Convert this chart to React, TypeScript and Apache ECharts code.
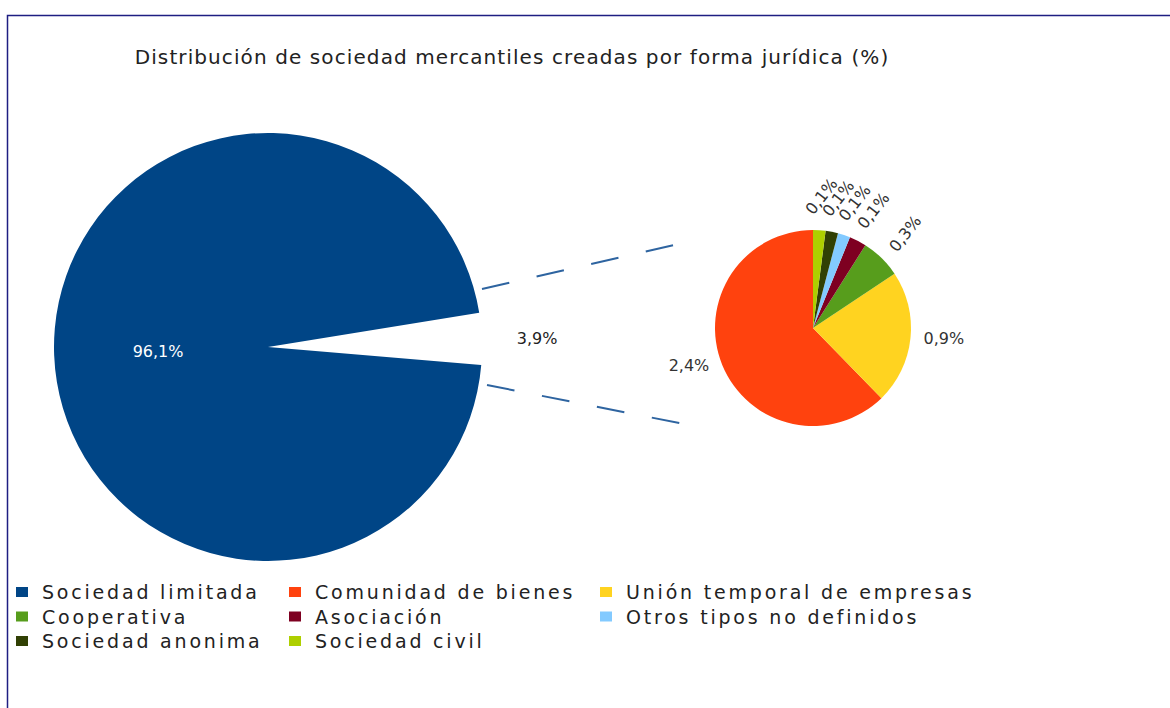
import React, { useEffect, useRef } from "react";
import * as echarts from "echarts";

// ---- data ----
const mainNames = ["Sociedad limitada", "Resto de formas"];
const mainValues = [96.1, 3.9];

const detailNames = [
  "Comunidad de bienes",
  "Unión temporal de empresas",
  "Cooperativa",
  "Asociación",
  "Otros tipos no definidos",
  "Sociedad anonima",
  "Sociedad civil",
];
const detailValues = [2.43, 0.86, 0.26, 0.11, 0.08, 0.08, 0.08];

const legendCol1 = ["Sociedad limitada", "Cooperativa", "Sociedad anonima"];
const legendCol2 = ["Comunidad de bienes", "Asociación", "Sociedad civil"];
const legendCol3 = ["Unión temporal de empresas", "Otros tipos no definidos"];

const titleText = "Distribución de sociedad mercantiles creadas por forma jurídica (%)";

// ---- styles ----
const colorMap: Record<string, string> = {
  "Sociedad limitada": "#004586",
  "Comunidad de bienes": "#ff420e",
  "Unión temporal de empresas": "#ffd320",
  "Cooperativa": "#579d1c",
  "Asociación": "#7e0021",
  "Otros tipos no definidos": "#83caff",
  "Sociedad anonima": "#314004",
  "Sociedad civil": "#aecf00",
};

const FONT = "DejaVu Sans";
const LEGEND_FONT = "DejaVu Sans, Verdana";
const TITLE_FONT = "DejaVu Sans, Tahoma";

const fmt = (v: number) => v.toFixed(1).replace(".", ",") + "%";

export default function App() {
  const ref = useRef<HTMLDivElement>(null);

  useEffect(() => {
    if (!ref.current) return;
    const chart = echarts.init(ref.current, undefined, { renderer: "svg" });

    const mainData = mainNames.map((name, i) => {
      const isGap = i === 1;
      return {
        name,
        value: mainValues[i],
        itemStyle: { color: isGap ? "rgba(0,0,0,0)" : colorMap[name] },
        label: isGap
          ? { show: true, position: "outside", color: "#222", fontSize: 16, fontFamily: FONT }
          : { show: true, position: "inside", color: "#ffffff", fontSize: 16, fontFamily: FONT },
        labelLine: { show: false, length: 15, length2: 15 },
      };
    });

    const detailData = detailValues.map((v, i) => ({
      name: detailNames[i],
      value: v,
      itemStyle: { color: colorMap[detailNames[i]] },
      label: { show: v >= 0.5 },
    }));

    const ringData = detailValues.map((v, i) => ({
      name: detailNames[i],
      value: v,
      itemStyle: { color: "rgba(0,0,0,0)" },
      label: { show: v < 0.5 },
    }));

    const legendBase = {
      orient: "vertical",
      top: 577,
      itemWidth: 12,
      itemHeight: 10,
      itemGap: 4.5,
      icon: "rect",
      selectedMode: false,
      textStyle: {
        fontFamily: LEGEND_FONT,
        fontSize: 19,
        lineHeight: 20,
        color: "#222",
        padding: [0, 0, 0, 9],
      },
    };

    chart.setOption({
      animation: false,
      backgroundColor: "#ffffff",
      title: {
        text: titleText,
        left: 507,
        textAlign: "center",
        top: 42,
        textStyle: { fontFamily: TITLE_FONT, fontSize: 20, fontWeight: "normal", color: "#222" },
      },
      legend: [
        { ...legendBase, left: 11, data: legendCol1 },
        { ...legendBase, left: 284, data: legendCol2 },
        { ...legendBase, left: 595, data: legendCol3 },
      ],
      graphic: [
        {
          type: "rect",
          silent: true,
          shape: { x: 7.5, y: 15.5, width: 1300, height: 900 },
          style: { fill: "none", stroke: "#1e1e82", lineWidth: 1.5 },
        },
        {
          type: "line",
          silent: true,
          shape: { x1: 482, y1: 289, x2: 674, y2: 245 },
          style: { stroke: "#2e64a0", lineWidth: 2, lineDash: [28, 28] },
        },
        {
          type: "line",
          silent: true,
          shape: { x1: 487, y1: 385, x2: 684, y2: 424 },
          style: { stroke: "#2e64a0", lineWidth: 2, lineDash: [28, 28] },
        },
      ],
      series: [
        {
          type: "pie",
          center: [268, 347],
          radius: 214,
          clockwise: true,
          startAngle: -4.8,
          avoidLabelOverlap: false,
          emphasis: { disabled: true },
          silent: true,
          label: { formatter: (p: any) => fmt(p.value) },
          data: mainData,
        },
        {
          type: "pie",
          center: [813, 328],
          radius: 98,
          clockwise: false,
          startAngle: 90,
          avoidLabelOverlap: false,
          emphasis: { disabled: true },
          silent: true,
          label: {
            position: "outside",
            color: "#333",
            fontSize: 16,
            fontFamily: FONT,
            formatter: (p: any) => fmt(p.value),
          },
          labelLine: { show: false, length: 1, length2: 7 },
          data: detailData,
        },
        {
          type: "pie",
          center: [813, 328],
          radius: [118, 140],
          clockwise: false,
          startAngle: 90,
          avoidLabelOverlap: false,
          emphasis: { disabled: true },
          silent: true,
          legendHoverLink: false,
          labelLayout: { hideOverlap: false },
          label: {
            position: "inside",
            rotate: 52,
            color: "#333",
            fontSize: 16,
            fontFamily: FONT,
            formatter: (p: any) => fmt(p.value),
          },
          labelLine: { show: false },
          data: ringData,
        },
      ],
    });

    return () => chart.dispose();
  }, []);

  return (
    <>
      <style>{`
        svg text[style*="Verdana"], svg text[font-family*="Verdana"] { letter-spacing: 2.8px; }
        svg text[style*="Tahoma"], svg text[font-family*="Tahoma"] { letter-spacing: 1.1px; }
      `}</style>
      <div
        ref={ref}
        style={{ position: "absolute", left: 0, top: 0, width: 1170, height: 708, background: "#fff" }}
      />
    </>
  );
}
